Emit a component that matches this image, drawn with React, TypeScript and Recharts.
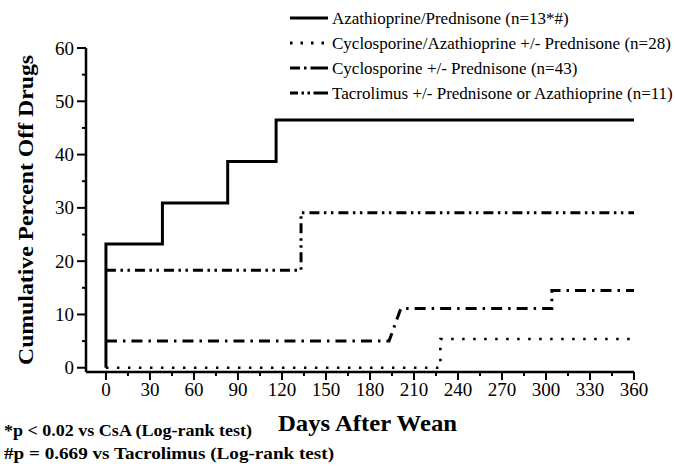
import { Label, Line, LineChart, XAxis, YAxis } from "recharts";

const FONT = "'Liberation Serif', 'Times New Roman', Times, serif";

// Cumulative percent off drugs (days after wean)
const azaDays = [0, 0, 38.5, 83, 116, 360];
const azaPct = [0, 23.2, 30.9, 38.7, 46.5, 46.5];

const csaAzaDays = [0, 228, 360];
const csaAzaPct = [0, 5.4, 5.4];

const csaDays = [0, 193, 201, 304, 304, 360];
const csaPct = [5.0, 5.0, 11.1, 11.1, 14.5, 14.5];

const tacDays = [0, 133, 360];
const tacPct = [18.3, 29.1, 29.1];

const seriesNames = [
    "Azathioprine/Prednisone (n=13*#)",
    "Cyclosporine/Azathioprine +/- Prednisone (n=28)",
    "Cyclosporine +/- Prednisone (n=43)",
    "Tacrolimus +/- Prednisone or Azathioprine (n=11)",
];

const xTicks = [0, 15, 30, 45, 60, 75, 90, 105, 120, 135, 150, 165, 180, 195, 210, 225, 240, 255, 270, 285, 300, 315, 330, 345, 360];
const yTicks = [0, 5, 10, 15, 20, 25, 30, 35, 40, 45, 50, 55, 60];

const footnotes = [
    "*p < 0.02 vs CsA (Log-rank test)",
    "#p = 0.669 vs Tacrolimus (Log-rank test)",
];

const toRows = (days: number[], pct: number[]) =>
    days.map((d, i) => ({ day: d, pct: pct[i] }));

// dash patterns: solid, dotted, dash-dot, dash-dot-dot
const lineDash = ["", "2.5 8.5", "11 6 2.5 6", "10 4.5 2.5 4.5 2.5 5"];
const legendDash = ["", "2.5 8", "10 4 2.5 4 18", "8 3.5 2.5 3.5 2.5 3.5 15"];
const legendRows = [18, 43, 68, 93];

const XTick = ({ x, y, payload }: any) => {
    const major = payload.value % 30 === 0;
    return (
        <g>
            <line x1={x} x2={x} y1={y} y2={y + (major ? 8 : 4)} stroke="#000" strokeWidth={2} />
            {major && (
                <text x={x} y={y + 24} textAnchor="middle" fontFamily={FONT} fontSize={19} fill="#000">
                    {payload.value}
                </text>
            )}
        </g>
    );
};

const YTick = ({ x, y, payload }: any) => {
    const major = payload.value % 10 === 0;
    return (
        <g>
            <line x1={x - (major ? 9 : 4)} x2={x} y1={y} y2={y} stroke="#000" strokeWidth={2} />
            {major && (
                <text x={x - 12} y={y + 6.5} textAnchor="end" fontFamily={FONT} fontSize={19} fill="#000">
                    {payload.value}
                </text>
            )}
        </g>
    );
};

export default function App() {
    return (
        <div style={{ position: "absolute", left: 0, top: 0, width: 675, height: 466, background: "#fff" }}>
            <LineChart width={675} height={466} margin={{ top: 48, right: 41, bottom: 64, left: 0 }}>
                <XAxis
                    dataKey="day"
                    type="number"
                    domain={[-13.6, 360]}
                    ticks={xTicks}
                    interval={0}
                    height={30}
                    tickSize={0}
                    tickMargin={0}
                    tickLine={false}
                    axisLine={{ stroke: "#000", strokeWidth: 2.5 }}
                    tick={<XTick />}
                    allowDataOverflow
                >
                    <Label
                        content={() => (
                            <text x={278} y={431} fontFamily={FONT} fontWeight="bold" fontSize={23}
                                textLength={179} lengthAdjust="spacingAndGlyphs" fill="#000">
                                Days After Wean
                            </text>
                        )}
                    />
                </XAxis>
                <YAxis
                    type="number"
                    domain={[-0.8, 60]}
                    ticks={yTicks}
                    interval={0}
                    width={86}
                    tickSize={0}
                    tickMargin={0}
                    tickLine={false}
                    axisLine={{ stroke: "#000", strokeWidth: 2.5 }}
                    tick={<YTick />}
                    allowDataOverflow
                >
                    <Label
                        content={() => (
                            <text transform="translate(33,210) rotate(-90)" textAnchor="middle" fontFamily={FONT}
                                fontWeight="bold" fontSize={22} textLength={310} lengthAdjust="spacingAndGlyphs" fill="#000">
                                Cumulative Percent Off Drugs
                            </text>
                        )}
                    />
                </YAxis>
                <Line data={toRows(azaDays, azaPct)} dataKey="pct" name={seriesNames[0]} type="stepAfter"
                    stroke="#000" strokeWidth={3} dot={false} activeDot={false} isAnimationActive={false} />
                <Line data={toRows(csaAzaDays, csaAzaPct)} dataKey="pct" name={seriesNames[1]} type="stepAfter"
                    stroke="#000" strokeWidth={2.6} strokeDasharray={lineDash[1]} dot={false} activeDot={false} isAnimationActive={false} />
                <Line data={toRows(csaDays, csaPct)} dataKey="pct" name={seriesNames[2]} type="linear"
                    stroke="#000" strokeWidth={3} strokeDasharray={lineDash[2]} dot={false} activeDot={false} isAnimationActive={false} />
                <Line data={toRows(tacDays, tacPct)} dataKey="pct" name={seriesNames[3]} type="stepAfter"
                    stroke="#000" strokeWidth={3} strokeDasharray={lineDash[3]} dot={false} activeDot={false} isAnimationActive={false} />
            </LineChart>

            {/* legend + footnotes */}
            <svg width={675} height={466} style={{ position: "absolute", left: 0, top: 0, pointerEvents: "none" }}>
                {seriesNames.map((name, i) => (
                    <g key={name}>
                        <line x1={290} x2={328} y1={legendRows[i]} y2={legendRows[i]} stroke="#000" strokeWidth={3}
                            strokeDasharray={legendDash[i] || undefined} />
                        <text x={332} y={legendRows[i] + 6} fontFamily={FONT} fontSize={17} fill="#000">{name}</text>
                    </g>
                ))}
                <text x={4} y={436} fontFamily={FONT} fontWeight="bold" fontSize={17} textLength={248}
                    lengthAdjust="spacingAndGlyphs" fill="#000">{footnotes[0]}</text>
                <text x={4} y={459} fontFamily={FONT} fontWeight="bold" fontSize={17} textLength={330}
                    lengthAdjust="spacingAndGlyphs" fill="#000">{footnotes[1]}</text>
            </svg>
        </div>
    );
}
